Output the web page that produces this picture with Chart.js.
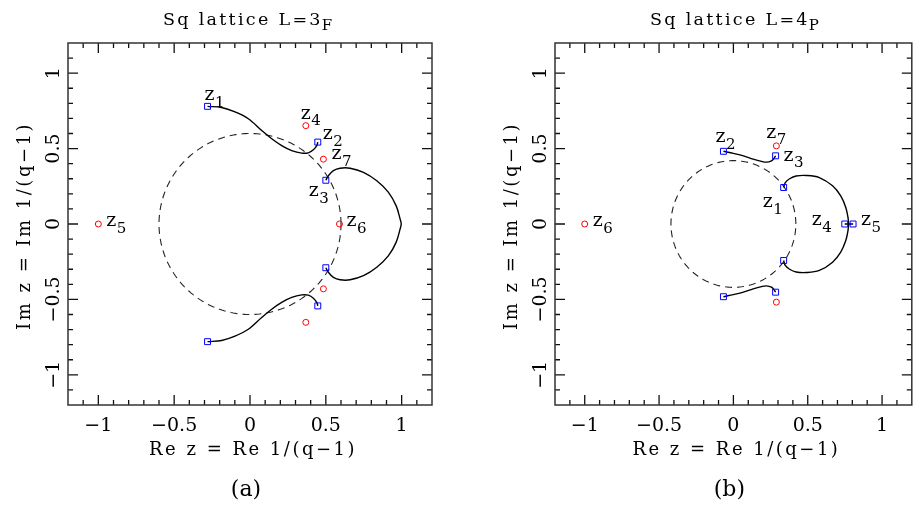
<!DOCTYPE html>
<html>
<head>
<meta charset="utf-8">
<script src="https://cdn.jsdelivr.net/npm/chart.js@4.4.1/dist/chart.umd.min.js"></script>
<style>
  html, body { margin: 0; padding: 0; background: #fff; }
  body { width: 917px; height: 505px; position: relative; overflow: hidden; }
  canvas { position: absolute; top: 0; }
  #panelA { left: 0; }
  #panelB { left: 487px; }
</style>
</head>
<body>
<canvas id="panelA" width="460" height="505"></canvas>
<canvas id="panelB" width="430" height="505"></canvas>
<script>
// ---- axes (shared by both panels) ----
const axisRange = [-1.2, 1.2];
const majorTicks = [-1, -0.5, 0, 0.5, 1];
const minorTicks = [-1.1, -0.9, -0.8, -0.7, -0.6, -0.4, -0.3, -0.2, -0.1,
                    0.1, 0.2, 0.3, 0.4, 0.6, 0.7, 0.8, 0.9, 1.1];
const xAxisTitle = 'Re z = Re 1/(q\u22121)';
const yAxisTitle = 'Im z = Im 1/(q\u22121)';

// ---- panel (a): square lattice L = 3, free b.c. ----
const circleRadius3F = 0.6;
const branch3F_upper = [[-0.28, 0.78], [-0.187, 0.772], [-0.099, 0.743], [-0.011, 0.698],
  [0.077, 0.62], [0.143, 0.565], [0.209, 0.52], [0.275, 0.487], [0.341, 0.47],
  [0.385, 0.472], [0.418, 0.492], [0.44, 0.52], [0.447, 0.543]];
const branch3F_lower = [[-0.28, -0.78], [-0.187, -0.772], [-0.099, -0.743], [-0.011, -0.698],
  [0.077, -0.62], [0.143, -0.565], [0.209, -0.52], [0.275, -0.487], [0.341, -0.47],
  [0.385, -0.472], [0.418, -0.492], [0.44, -0.52], [0.447, -0.543]];
const branch3F_loop = [[0.5, 0.29], [0.517, 0.32], [0.55, 0.354], [0.594, 0.37], [0.66, 0.37],
  [0.748, 0.343], [0.836, 0.287], [0.913, 0.21], [0.964, 0.12], [0.99, 0.032], [0.997, 0],
  [0.99, -0.032], [0.964, -0.12], [0.913, -0.21], [0.836, -0.287], [0.748, -0.343],
  [0.66, -0.37], [0.594, -0.37], [0.55, -0.354], [0.517, -0.32], [0.5, -0.29]];
const endpoints3F = [[-0.28, 0.78], [0.447, 0.543], [0.5, 0.29],
                     [0.5, -0.29], [0.447, -0.543], [-0.28, -0.78]];
const zeros3F = [[0.368, 0.652], [0.484, 0.43], [0.59, 0], [0.484, -0.43], [0.368, -0.652], [-1, 0]];
const names3F = ['1', '2', '3', '4', '5', '6', '7'];
const anchors3F = [[-0.28, 0.78], [0.447, 0.543], [0.5, 0.29], [0.368, 0.652], [-1, 0], [0.59, 0], [0.484, 0.43]];

// ---- panel (b): square lattice L = 4, periodic b.c. ----
const circleRadius4P = 0.42;
const branch4P_upper = [[-0.067, 0.482], [0, 0.468], [0.067, 0.452], [0.133, 0.43], [0.189, 0.415],
  [0.222, 0.41], [0.256, 0.419], [0.273, 0.435], [0.284, 0.452]];
const branch4P_lower = [[-0.067, -0.482], [0, -0.468], [0.067, -0.452], [0.133, -0.43], [0.189, -0.415],
  [0.222, -0.41], [0.256, -0.419], [0.273, -0.435], [0.284, -0.452]];
const branch4P_loop = [[0.338, 0.242], [0.349, 0.275], [0.378, 0.3], [0.422, 0.318], [0.489, 0.322],
  [0.578, 0.308], [0.667, 0.253], [0.722, 0.186], [0.756, 0.11], [0.771, 0.042], [0.774, 0],
  [0.771, -0.042], [0.756, -0.11], [0.722, -0.186], [0.667, -0.253], [0.578, -0.308],
  [0.489, -0.322], [0.422, -0.318], [0.378, -0.3], [0.349, -0.275], [0.338, -0.242]];
const branch4P_real = [[0.749, 0], [0.805, 0]];
const endpoints4P = [[-0.067, 0.482], [0.284, 0.452], [0.338, 0.242], [0.749, 0], [0.805, 0],
                     [0.338, -0.242], [0.284, -0.452], [-0.067, -0.482]];
const zeros4P = [[0.289, 0.518], [0.289, -0.518], [-1, 0]];
const names4P = ['1', '2', '3', '4', '5', '6', '7'];
const anchors4P = [[0.338, 0.242], [-0.067, 0.482], [0.284, 0.452], [0.749, 0], [0.805, 0], [-1, 0], [0.289, 0.518]];

// ---- text placement (pixel nudges of each z label from its anchor) ----
const nudges3F = [[-3, -6], [5, -3], [-17, 16], [-5, -7], [8, 2], [7, 2], [8, 0]];
const nudges4P = [[-21, 20], [-8, -9], [8, 5], [-33, 1], [8, 1], [8, 2], [-10, -8]];

const SERIF = '"DejaVu Serif", "Liberation Serif", serif';

const fmt = v => (v < 0 ? '\u2212' + Math.abs(v) : String(v));
const toPts = arr => arr.map(([x, y]) => ({x, y}));

function circlePoints(r) {
  const out = [];
  for (let k = 0; k <= 240; k++) {
    const t = 2 * Math.PI * k / 240;
    out.push({x: r * Math.cos(t), y: r * Math.sin(t)});
  }
  return out;
}

// frame with inward ticks on all sides, rotated y labels, axis titles, caption, z labels
const decorations = {
  id: 'decorations',
  afterDatasetsDraw(chart, args, o) {
    const {ctx, chartArea: a, scales: {x, y}} = chart;
    const cx = (a.left + a.right) / 2, cy = (a.top + a.bottom) / 2;
    ctx.save();
    const tickSet = (vals, len) => {
      ctx.beginPath();
      vals.forEach(v => {
        const px = x.getPixelForValue(v), py = y.getPixelForValue(v);
        ctx.moveTo(px, a.bottom); ctx.lineTo(px, a.bottom - len);
        ctx.moveTo(px, a.top); ctx.lineTo(px, a.top + len);
        ctx.moveTo(a.left, py); ctx.lineTo(a.left + len, py);
        ctx.moveTo(a.right, py); ctx.lineTo(a.right - len, py);
      });
      ctx.stroke();
    };
    ctx.strokeStyle = '#111';
    ctx.lineWidth = 1.3;
    tickSet(majorTicks, 10);
    tickSet(minorTicks, 5);
    ctx.strokeStyle = '#333';
    ctx.lineWidth = 1.5;
    ctx.strokeRect(a.left, a.top, a.right - a.left, a.bottom - a.top);

    ctx.fillStyle = '#000';

    // y tick labels, reading upward
    ctx.font = '19px ' + SERIF;
    ctx.textAlign = 'center';
    ctx.textBaseline = 'middle';
    majorTicks.forEach(v => {
      ctx.save();
      ctx.translate(a.left - 14, y.getPixelForValue(v));
      ctx.rotate(-Math.PI / 2);
      ctx.fillText(fmt(v), 0, 0);
      ctx.restore();
    });

    // axis titles
    ctx.textBaseline = 'alphabetic';
    ctx.font = '18px ' + SERIF;
    ctx.letterSpacing = '2.5px';
    ctx.fillText(xAxisTitle, cx + 3, 455);
    ctx.save();
    ctx.translate(a.left - 38.5, cy + 2);
    ctx.rotate(-Math.PI / 2);
    ctx.fillText(yAxisTitle, 0, 0);
    ctx.restore();

    // panel title with subscript
    ctx.textAlign = 'left';
    ctx.font = '17.5px ' + SERIF;
    ctx.letterSpacing = '2.3px';
    const tx = a.left + 95;
    ctx.fillText(o.title, tx, 25);
    const tw = ctx.measureText(o.title).width;
    ctx.letterSpacing = '0px';
    ctx.font = '15px ' + SERIF;
    ctx.fillText(o.titleSub, tx + tw - 1, 29.5);

    // caption
    ctx.font = '22px ' + SERIF;
    ctx.textAlign = 'center';
    ctx.fillText(o.caption, cx - 4, 496);

    // zero labels z_n
    ctx.textAlign = 'left';
    o.names.forEach((n, i) => {
      const [vx, vy] = o.anchors[i];
      const [dx, dy] = o.nudges[i];
      const px = x.getPixelForValue(vx) + dx;
      const py = y.getPixelForValue(vy) + dy;
      ctx.font = '19px ' + SERIF;
      ctx.fillText('z', px, py);
      ctx.font = '15px ' + SERIF;
      ctx.fillText(n, px + 10.5, py + 6.5);
    });
    ctx.restore();
  }
};

function makePanel(canvasId, p) {
  const datasets = [
    {data: toPts(p.endpoints), showLine: false, pointStyle: 'rect', pointRadius: 4.2,
     pointBorderColor: '#0000ff', pointBackgroundColor: 'rgba(0,0,0,0)', pointBorderWidth: 1, order: 0},
    {data: toPts(p.zeros), showLine: false, pointStyle: 'circle', pointRadius: 3,
     pointBorderColor: '#ff0000', pointBackgroundColor: 'rgba(0,0,0,0)', pointBorderWidth: 1, order: 1},
    ...p.branches.map(b => ({data: toPts(b), showLine: true, pointRadius: 0, borderColor: '#000',
      borderWidth: 1.4, tension: 0.35, order: 2})),
    {data: circlePoints(p.radius), showLine: true, pointRadius: 0, borderColor: '#222',
     borderWidth: 1.1, borderDash: [7, 5], tension: 0, order: 3}
  ];
  const setTicks = s => { s.ticks = majorTicks.map(v => ({value: v})); };
  return new Chart(document.getElementById(canvasId), {
    type: 'scatter',
    data: {datasets},
    options: {
      responsive: false,
      animation: false,
      devicePixelRatio: 1,
      events: [],
      layout: {padding: {left: 0, top: 43, right: p.padRight, bottom: 0}},
      plugins: {
        legend: {display: false},
        tooltip: {enabled: false},
        decorations: {title: p.title, titleSub: p.titleSub, caption: p.caption,
                      names: p.names, anchors: p.anchors, nudges: p.nudges}
      },
      scales: {
        x: {
          type: 'linear', min: axisRange[0], max: axisRange[1],
          afterBuildTicks: setTicks,
          afterFit: s => { s.height = 100; },
          grid: {display: false, drawTicks: false},
          border: {display: false},
          ticks: {callback: v => fmt(v), font: {family: SERIF, size: 19}, color: '#000',
                  padding: 10, maxRotation: 0, autoSkip: false},
          title: {display: false}
        },
        y: {
          type: 'linear', min: axisRange[0], max: axisRange[1],
          afterBuildTicks: setTicks,
          afterFit: s => { s.width = 68; },
          grid: {display: false, drawTicks: false},
          border: {display: false},
          ticks: {display: false},
          title: {display: false}
        }
      }
    },
    plugins: [decorations]
  });
}

makePanel('panelA', {
  title: 'Sq lattice L=3', titleSub: 'F', caption: '(a)', padRight: 28,
  radius: circleRadius3F,
  branches: [branch3F_upper, branch3F_lower, branch3F_loop],
  endpoints: endpoints3F, zeros: zeros3F,
  names: names3F, anchors: anchors3F, nudges: nudges3F
});

makePanel('panelB', {
  title: 'Sq lattice L=4', titleSub: 'P', caption: '(b)', padRight: 2,
  radius: circleRadius4P,
  branches: [branch4P_upper, branch4P_lower, branch4P_loop, branch4P_real],
  endpoints: endpoints4P, zeros: zeros4P,
  names: names4P, anchors: anchors4P, nudges: nudges4P
});
</script>
</body>
</html>
